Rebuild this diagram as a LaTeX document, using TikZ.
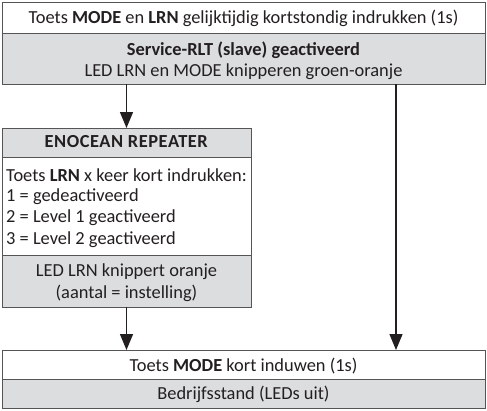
\documentclass[tikz,border=0pt]{standalone}
\usepackage{fontspec}
\setmainfont{Carlito}
\usetikzlibrary{arrows.meta}
\definecolor{boxgray}{HTML}{DCDDDF}
\definecolor{edge}{HTML}{555555}
\definecolor{ink}{HTML}{231F20}
\tikzset{
  cell/.style={draw=edge, line width=1pt, inner sep=0pt, outer sep=0pt},
  wcell/.style={cell, fill=white},
  gcell/.style={cell, fill=boxgray},
  txt/.style={text=ink, inner sep=0pt, font=\fontsize{18.4}{21.7}\selectfont},
  flow/.style={draw=ink, line width=1.4pt, -{Triangle[width=13pt,length=16pt]}},
}
\begin{document}
\begin{tikzpicture}[x=1pt,y=-1pt]
\useasboundingbox (0,0) rectangle (487,410);
% top box
\node[wcell, minimum width=483pt, minimum height=31pt] (t1) at (243.5,17.5) {};
\node[gcell, minimum width=483pt, minimum height=51pt] (t2) at (243.5,58.5) {};
\node[txt] (t1t) at (243.5,18) {Toets \textbf{MODE} en \textbf{LRN} gelijktijdig kortstondig indrukken (1s)};
\node[txt] (t2a) at (243.5,50) {\textbf{Service-RLT (slave) geactiveerd}};
\node[txt] (t2b) at (243.5,72) {LED LRN en MODE knipperen groen-oranje};
% enocean box
\node[gcell, minimum width=249pt, minimum height=29pt] (e1) at (126.5,142.5) {};
\node[wcell, minimum width=249pt, minimum height=98pt] (e2) at (126.5,206) {};
\node[gcell, minimum width=249pt, minimum height=52pt] (e3) at (126.5,281) {};
\node[txt] (e1t) at (126.5,142) {\addfontfeatures{LetterSpace=3}\textbf{ENOCEAN REPEATER}};
\node[txt, anchor=west] (l1) at (6,175) {Toets \textbf{LRN} x keer kort indrukken:};
\node[txt, anchor=west] (l2) at (6,197) {1 = gedeactiveerd};
\node[txt, anchor=west] (l3) at (6,218) {2 = Level 1 geactiveerd};
\node[txt, anchor=west] (l4) at (6,240) {3 = Level 2 geactiveerd};
\node[txt] (e3a) at (126.5,272) {LED LRN knippert oranje};
\node[txt] (e3b) at (126.5,293) {(aantal = instelling)};
% bottom box
\node[wcell, minimum width=483pt, minimum height=29pt] (b1) at (243.5,364.5) {};
\node[gcell, minimum width=483pt, minimum height=29pt] (b2) at (243.5,393.5) {};
\node[txt] (b1t) at (243.5,366) {Toets \textbf{MODE} kort induwen (1s)};
\node[txt] (b2t) at (243.5,394) {Bedrijfsstand (LEDs uit)};
% arrows
\draw[flow] (t2.south -| e1.north) -- (e1.north);
\draw[flow] (e3.south) -- (e3.south |- b1.north);
\coordinate (rx) at (396,84);
\draw[flow] (t2.south -| rx) -- (b1.north -| rx);
\end{tikzpicture}
\end{document}
